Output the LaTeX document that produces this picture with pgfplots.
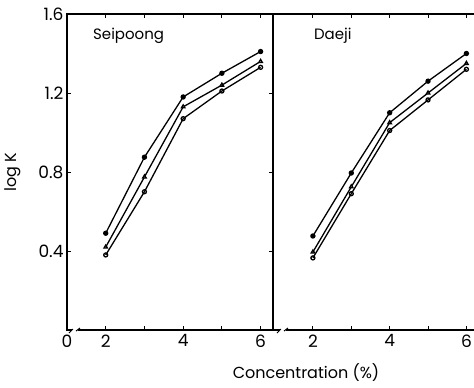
\documentclass[border=0pt]{standalone}
\usepackage{pgfplots}
\pgfplotsset{compat=1.18}
\usepackage{fontspec}
\setmainfont{Poppins}
\newcommand{\tl}[1]{\mbox{\fontsize{17}{19}\selectfont #1}}
\begin{document}
\begin{tikzpicture}
\useasboundingbox (0pt,0pt) rectangle (474pt,-388pt);
\pgfplotsset{
  panel/.style={scale only axis, height=316pt, ymin=0, ymax=1.6, anchor=south west,
    axis line style={line width=1.3pt}, tick style={line width=1pt, black},
    tick align=inside, major tick length=4pt,
    font=\fontsize{15}{17}\selectfont,
    label style={font=\fontsize{16}{18}\selectfont},
    /pgf/number format/assume math mode=true,
    xticklabel style={yshift=-1pt},
    every axis plot/.append style={line width=1.3pt, black, mark size=2pt},
    clip=false},
  top/.style={mark=*, mark options={fill=black}},
  mid/.style={mark=triangle*, mark options={fill=white}},
  bot/.style={mark=o, mark options={fill=white}}
}
\begin{axis}[panel, at={(67pt,-330pt)}, width=206pt, xmin=1, xmax=6.32,
  xtick={1,2,3,4,5,6}, xticklabels={\tl{0},\tl{2},,\tl{4},,\tl{6}},
  ytick={0.4,0.8,1.2,1.6}, yticklabels={\tl{0.4},\tl{0.8},\tl{1.2},\tl{1.6}},
  yticklabel style={xshift=0pt},
  ylabel={log K}, ylabel style={at={(axis description cs:-0.265,0.5)}, anchor=center}]
\addplot[top] coordinates {(2,0.49)(3,0.875)(4,1.18)(5,1.30)(6,1.41)};
\addplot[mid] coordinates {(2,0.42)(3,0.775)(4,1.13)(5,1.24)(6,1.36)};
\addplot[bot] coordinates {(2,0.38)(3,0.70)(4,1.07)(5,1.21)(6,1.33)};
\node[anchor=west] at (axis description cs:0.11,0.93) {Seipoong};
\end{axis}
\begin{axis}[panel, at={(273pt,-330pt)}, width=203pt, xmin=0.96, xmax=6.25,
  xtick={2,3,4,5,6}, xticklabels={\tl{2},,\tl{4},,\tl{6}}, ytick=\empty]
\addplot[top] coordinates {(2,0.476)(3,0.795)(4,1.10)(5,1.26)(6,1.40)};
\addplot[mid] coordinates {(2,0.395)(3,0.725)(4,1.05)(5,1.20)(6,1.35)};
\addplot[bot] coordinates {(2,0.365)(3,0.69)(4,1.01)(5,1.165)(6,1.32)};
\node[anchor=west] at (axis description cs:0.185,0.93) {Daeji};
\end{axis}
% axis breaks
\fill[white] (72pt,-333pt) rectangle (78pt,-327pt);
\draw[line width=1pt] (69pt,-333pt) -- (73pt,-329pt) (76pt,-331pt) -- (80pt,-328pt);
\fill[white] (280pt,-333pt) rectangle (286pt,-327pt);
\draw[line width=1pt] (277pt,-333pt) -- (281pt,-329pt) (284pt,-331pt) -- (288pt,-328pt);
\node[font=\fontsize{16}{18}\selectfont] at (306pt,-373pt) {Concentration (\%)};
\end{tikzpicture}
\end{document}
